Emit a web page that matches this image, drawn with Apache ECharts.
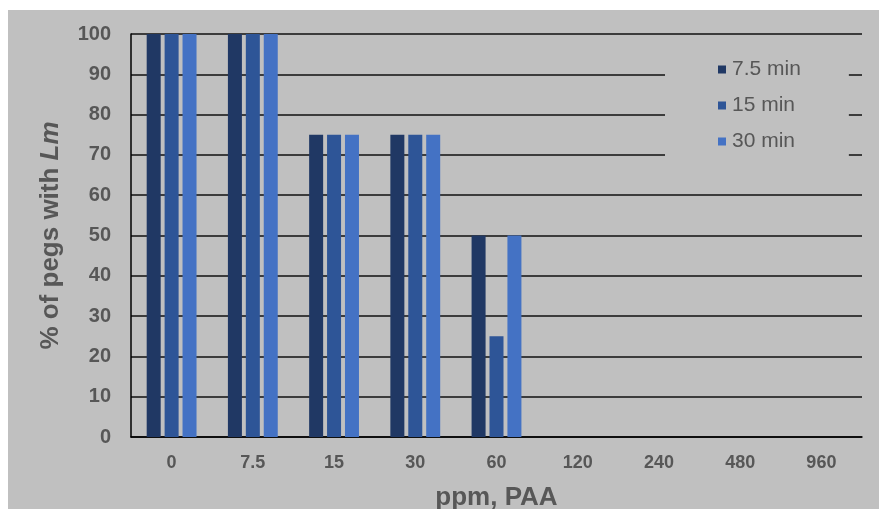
<!DOCTYPE html>
<html>
<head>
<meta charset="utf-8">
<script src="https://cdn.jsdelivr.net/npm/echarts@6/dist/echarts.min.js"></script>
<style>
  html, body { margin: 0; padding: 0; background: #ffffff; overflow: hidden; }
  #chart { position: absolute; left: 8px; top: 10px; width: 871px; height: 499px; background: #c0c0c0; }
</style>
</head>
<body>
<div id="chart"></div>
<script>
// PAA concentrations (ppm) on the category axis
const categories = ['0', '7.5', '15', '30', '60', '120', '240', '480', '960'];
// % of pegs with Lm for each exposure time
const min7_5 = [100, 100, 75, 75, 50, 0, 0, 0, 0];
const min15 = [100, 100, 75, 75, 25, 0, 0, 0, 0];
const min30 = [100, 100, 75, 75, 50, 0, 0, 0, 0];
const seriesNames = ['7.5 min', '15 min', '30 min'];
const yTicks = { min: 0, max: 100, interval: 10 };

const colors = ['#203864', '#2e5597', '#4472c4'];
const textGrey = '#575757';
const font = 'Arial, "Liberation Sans", sans-serif';

function bar(name, data, i) {
  return {
    name: name,
    type: 'bar',
    data: data,
    barWidth: 14,
    barGap: '28%',
    itemStyle: { color: colors[i] },
    emphasis: { disabled: true }
  };
}

const chart = echarts.init(document.getElementById('chart'));
chart.setOption({
  backgroundColor: '#c0c0c0',
  animation: false,
  textStyle: { fontFamily: font },
  grid: { left: 123, right: 17, top: 24, bottom: 72, outerBoundsMode: 'none', containLabel: false },
  legend: {
    orient: 'vertical',
    left: 657,
    top: 36,
    padding: [13, 48, 20, 53],
    backgroundColor: '#c0c0c0',
    itemWidth: 8,
    itemHeight: 8,
    itemGap: 15,
    icon: 'rect',
    textStyle: { color: textGrey, fontSize: 21, fontFamily: font, lineHeight: 20, padding: [0, 0, 0, 1] },
    data: seriesNames
  },
  xAxis: {
    type: 'category',
    data: categories,
    name: 'ppm, PAA',
    nameLocation: 'middle',
    nameGap: 48,
    nameTextStyle: { color: textGrey, fontSize: 26, fontWeight: 'bold', fontFamily: font },
    axisLine: { lineStyle: { color: '#000', width: 1.5 } },
    axisTick: { show: false },
    axisLabel: { color: textGrey, fontSize: 18, fontWeight: 'bold', margin: 17, fontFamily: font }
  },
  yAxis: {
    type: 'value',
    min: yTicks.min,
    max: yTicks.max,
    interval: yTicks.interval,
    name: '{n|% of pegs with }{i|Lm}',
    nameLocation: 'middle',
    nameGap: 67,
    nameRotate: 90,
    nameTextStyle: {
      rich: {
        n: { color: textGrey, fontSize: 26, fontWeight: 'bold', fontFamily: font },
        i: { color: textGrey, fontSize: 26, fontWeight: 'bold', fontStyle: 'italic', fontFamily: font }
      }
    },
    axisLine: { show: true, lineStyle: { color: '#000', width: 1.5 } },
    axisTick: { show: false },
    splitLine: { lineStyle: { color: '#111', width: 1.5 } },
    axisLabel: { color: textGrey, fontSize: 20, fontWeight: 'bold', margin: 20, fontFamily: font }
  },
  series: [
    bar(seriesNames[0], min7_5, 0),
    bar(seriesNames[1], min15, 1),
    bar(seriesNames[2], min30, 2)
  ]
});
</script>
</body>
</html>
